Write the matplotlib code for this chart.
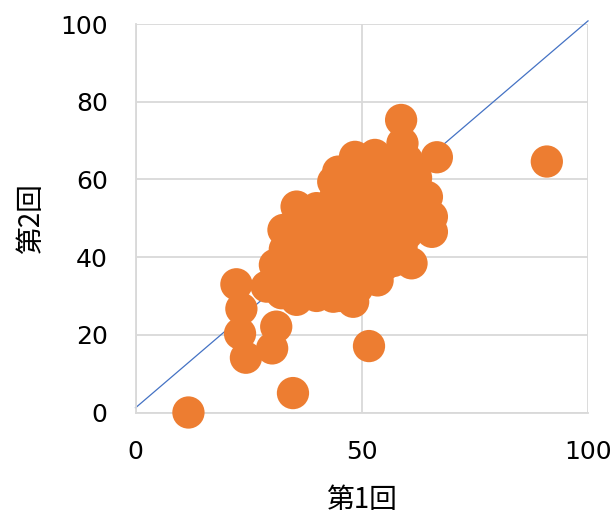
import matplotlib
matplotlib.use("Agg")
import matplotlib.pyplot as plt

# Data: (第1回, 第2回) scores
round1 = [11.7, 34.8, 51.6, 90.9, 22.3, 23.4, 23.1, 24.4, 31.1, 30.2,
          58.7, 59.0, 66.6, 48.5, 52.9, 44.8, 43.7, 62.0, 65.5, 65.5,
          62.9, 35.6, 40.0, 32.7, 30.8, 29.0, 35.6, 48.1, 53.5, 43.7,
          32.3, 61.0, 58.8, 64.4,
          38, 40, 42, 45, 47, 50, 52, 55, 57, 55, 50, 48, 45, 42, 38, 36,
          40, 46, 50, 53, 56, 58, 60, 54, 52, 47, 44, 50, 57, 60, 55, 40,
          34, 37, 48, 52, 44, 50, 55, 57,
          36, 39, 42, 44, 46, 49, 52, 55, 57, 59, 56, 53, 50, 46, 42, 38,
          54, 58, 60, 40, 45, 36, 33, 62, 47]
round2 = [0.0, 5.0, 17.1, 64.6, 33.0, 26.7, 20.3, 14.1, 22.1, 16.5,
          75.3, 69.3, 65.7, 65.8, 66.3, 62.0, 59.4, 60.4, 50.4, 46.5,
          55.5, 53.0, 52.6, 47.0, 38.0, 32.4, 29.0, 28.5, 34.0, 29.8,
          30.7, 38.4, 42.7, 55.5,
          45, 40, 35, 38, 42, 45, 48, 50, 55, 60, 58, 55, 50, 48, 36, 42,
          33, 33, 36, 40, 44, 48, 52, 56, 62, 61, 55, 52, 62, 65, 63, 47,
          35, 32, 48, 44, 43, 40, 38, 39,
          38, 43, 40, 46, 36, 32, 38, 42, 46, 50, 53, 53, 62, 58, 52, 50,
          65, 58, 46, 30, 30, 48, 42, 58, 45]
line_x = [0, 100]
line_y = [1.2, 100.8]
x_ticks = [0, 50, 100]
y_ticks = [0, 20, 40, 60, 80, 100]

fig = plt.figure(figsize=(6.13, 5.16), dpi=100)
ax = fig.add_axes([135.5/613, 1 - 412.5/516, (588 - 135.5)/613, (412.5 - 24)/516])

ax.plot(line_x, line_y, color="#4472C4", lw=0.9, zorder=2, clip_on=False)
ax.scatter(round1, round2, s=540, color="#ED7D31", edgecolors="none", zorder=3, clip_on=False)

ax.set_xlim(0, 100)
ax.set_ylim(0, 100)
ax.set_xticks(x_ticks)
ax.set_yticks(y_ticks)
ax.grid(True, color="#D9D9D9", lw=1.3, zorder=0)
ax.set_axisbelow(True)
for s in ["top", "right"]:
    ax.spines[s].set_visible(False)
for s in ["left", "bottom"]:
    ax.spines[s].set_color("#D9D9D9")
    ax.spines[s].set_linewidth(1.3)
ax.tick_params(axis="both", length=0, labelsize=18, colors="#000000")
ax.tick_params(axis="y", pad=20)
ax.tick_params(axis="x", pad=20)
for lbl in ax.get_xticklabels() + ax.get_yticklabels():
    lbl.set_family(["DejaVu Sans"])

ax.set_xlabel("第1回", fontsize=20, family=["Noto Sans CJK JP", "DejaVu Sans"], labelpad=15)
ax.set_ylabel("第2回", fontsize=20, family=["Noto Sans CJK JP", "DejaVu Sans"], labelpad=10)

fig.savefig("out.png", dpi=100)
